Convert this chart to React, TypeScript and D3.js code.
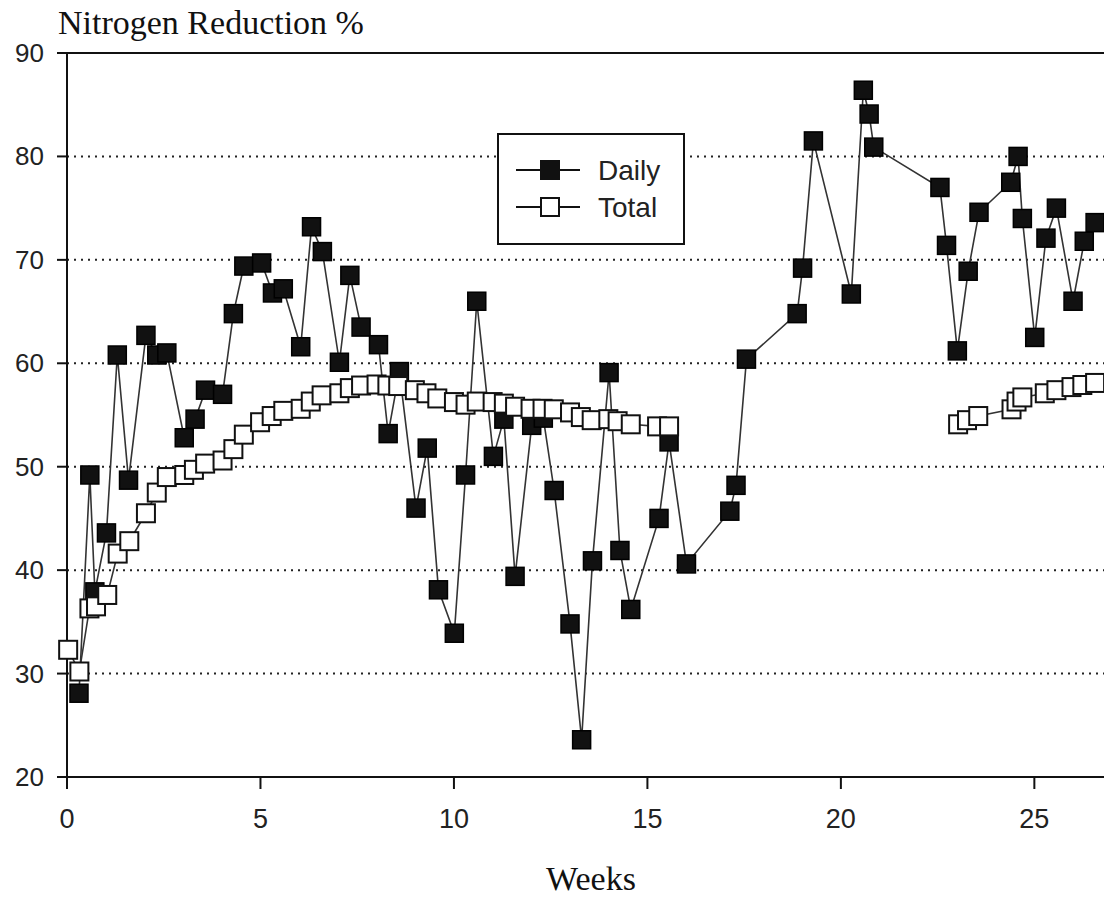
import React from "react";
import * as d3 from "d3";

const dailyWeeks = [0.31,0.59,0.72,1.02,1.30,1.59,2.04,2.32,2.58,3.03,3.31,3.58,4.02,4.30,4.57,5.03,5.31,5.59,6.04,6.32,6.60,7.04,7.31,7.60,8.05,8.30,8.59,9.02,9.31,9.60,10.01,10.30,10.59,11.02,11.29,11.58,12.01,12.31,12.59,13.00,13.30,13.58,14.01,14.29,14.57,15.30,15.56,16.01,17.13,17.29,17.56,18.87,19.01,19.29,20.27,20.58,20.73,20.85,22.56,22.73,23.01,23.29,23.57,24.39,24.58,24.69,25.01,25.30,25.57,26.00,26.29,26.57];
const dailyValues = [28.1,49.2,37.9,43.6,60.8,48.7,62.7,60.8,61.0,52.8,54.6,57.4,57.0,64.8,69.4,69.7,66.8,67.2,61.6,73.2,70.8,60.1,68.5,63.5,61.8,53.2,59.2,46.0,51.8,38.1,33.9,49.2,66.0,51.0,54.6,39.4,54.0,54.7,47.7,34.8,23.6,40.9,59.1,41.9,36.2,45.0,52.4,40.6,45.7,48.2,60.4,64.8,69.2,81.5,66.7,86.4,84.1,80.9,77.0,71.4,61.2,68.9,74.6,77.5,80.0,74.0,62.5,72.1,75.0,66.0,71.8,73.6];

const totalWeeks = [0.03,0.32,0.58,0.75,1.04,1.31,1.61,2.04,2.32,2.58,3.03,3.28,3.57,4.02,4.30,4.57,4.99,5.29,5.59,6.04,6.30,6.58,7.04,7.31,7.60,8.00,8.28,8.56,8.99,9.29,9.57,10.0,10.30,10.59,11.0,11.29,11.58,11.98,12.29,12.58,13.0,13.28,13.56,13.99,14.23,14.57,15.25,15.56,19.0,23.03,23.26,23.55,24.41,24.54,24.69,25.27,25.57,25.96,26.24,26.57];
const totalValues: (number | null)[] = [32.3,30.2,36.3,36.5,37.6,41.6,42.8,45.5,47.5,49.0,49.2,49.7,50.3,50.6,51.7,53.1,54.3,54.9,55.4,55.6,56.3,56.9,57.1,57.6,57.85,57.95,57.85,57.8,57.4,57.1,56.6,56.25,56.0,56.3,56.25,56.1,55.8,55.6,55.6,55.55,55.25,54.8,54.5,54.6,54.4,54.1,53.9,53.9,null,54.1,54.5,54.9,55.55,56.3,56.7,57.1,57.4,57.7,57.9,58.1];

const yTicks = [20,30,40,50,60,70,80,90];
const xTicks = [0,5,10,15,20,25];
const gridValues = [30,40,50,60,70,80];
const legendLabels = ["Daily","Total"];

const W = 1104, H = 899;
const x = d3.scaleLinear().domain([0, 26.8]).range([67, 1104]);
const y = d3.scaleLinear().domain([20, 90]).range([777, 53]);

export default function App() {
  const daily = dailyWeeks.map((w, i) => ({ w, v: dailyValues[i] as number | null }));
  const total = totalWeeks.map((w, i) => ({ w, v: totalValues[i] }));
  const line = d3.line<{ w: number; v: number | null }>()
    .defined(d => d.v != null)
    .x(d => x(d.w))
    .y(d => y(d.v as number));
  const S = 18;
  const sans = "'Liberation Sans', Arial, sans-serif";
  const serif = "'Liberation Serif', 'Times New Roman', serif";
  return (
    <svg width={W} height={H} style={{ position: "absolute", left: 0, top: 0, background: "#fff" }}>
      <rect x={0} y={0} width={W} height={H} fill="#fff" />
      <text x={58} y={34} fontFamily={serif} fontSize={34} fill="#111">Nitrogen Reduction %</text>
      {gridValues.map(g => (
        <line key={g} x1={67} x2={W} y1={y(g)} y2={y(g)} stroke="#222" strokeWidth={2} strokeDasharray="2,5" />
      ))}
      <line x1={57} x2={W} y1={y(90)} y2={y(90)} stroke="#111" strokeWidth={2} />
      <line x1={67} x2={67} y1={y(90)} y2={y(20)} stroke="#111" strokeWidth={2} />
      <line x1={57} x2={W} y1={y(20)} y2={y(20)} stroke="#111" strokeWidth={2} />
      {yTicks.map(t => (
        <g key={t}>
          <line x1={57} x2={67} y1={y(t)} y2={y(t)} stroke="#111" strokeWidth={2} />
          <text x={44} y={y(t) + 9} textAnchor="end" fontFamily={sans} fontSize={26} fill="#222">{t}</text>
        </g>
      ))}
      {xTicks.map(t => (
        <g key={t}>
          <line x1={x(t)} x2={x(t)} y1={777} y2={789} stroke="#111" strokeWidth={2} />
          <text x={x(t)} y={828} textAnchor="middle" fontFamily={sans} fontSize={27} fill="#222">{t}</text>
        </g>
      ))}
      <text x={591} y={890} textAnchor="middle" fontFamily={serif} fontSize={34} fill="#111">Weeks</text>

      <path d={line(daily) || ""} fill="none" stroke="#333" strokeWidth={1.6} />
      <path d={line(total) || ""} fill="none" stroke="#333" strokeWidth={1.6} />
      {daily.map((d, i) => (
        <rect key={"d" + i} x={x(d.w) - S / 2} y={y(d.v as number) - S / 2} width={S} height={S} fill="#111" stroke="#000" strokeWidth={1.5} />
      ))}
      {total.filter(d => d.v != null).map((d, i) => (
        <rect key={"t" + i} x={x(d.w) - S / 2} y={y(d.v as number) - S / 2} width={S} height={S} fill="#fff" stroke="#111" strokeWidth={2} />
      ))}

      <rect x={498} y={134} width={186} height={110} fill="#fff" stroke="#111" strokeWidth={2} />
      {legendLabels.map((l, i) => {
        const ly = 170 + i * 37;
        return (
          <g key={l}>
            <line x1={516} x2={580} y1={ly} y2={ly} stroke="#111" strokeWidth={2} />
            <rect x={550 - S / 2} y={ly - S / 2} width={S} height={S} fill={i === 0 ? "#111" : "#fff"} stroke="#111" strokeWidth={2} />
            <text x={598} y={ly + 10} fontFamily={sans} fontSize={28} fill="#222">{l}</text>
          </g>
        );
      })}
    </svg>
  );
}
